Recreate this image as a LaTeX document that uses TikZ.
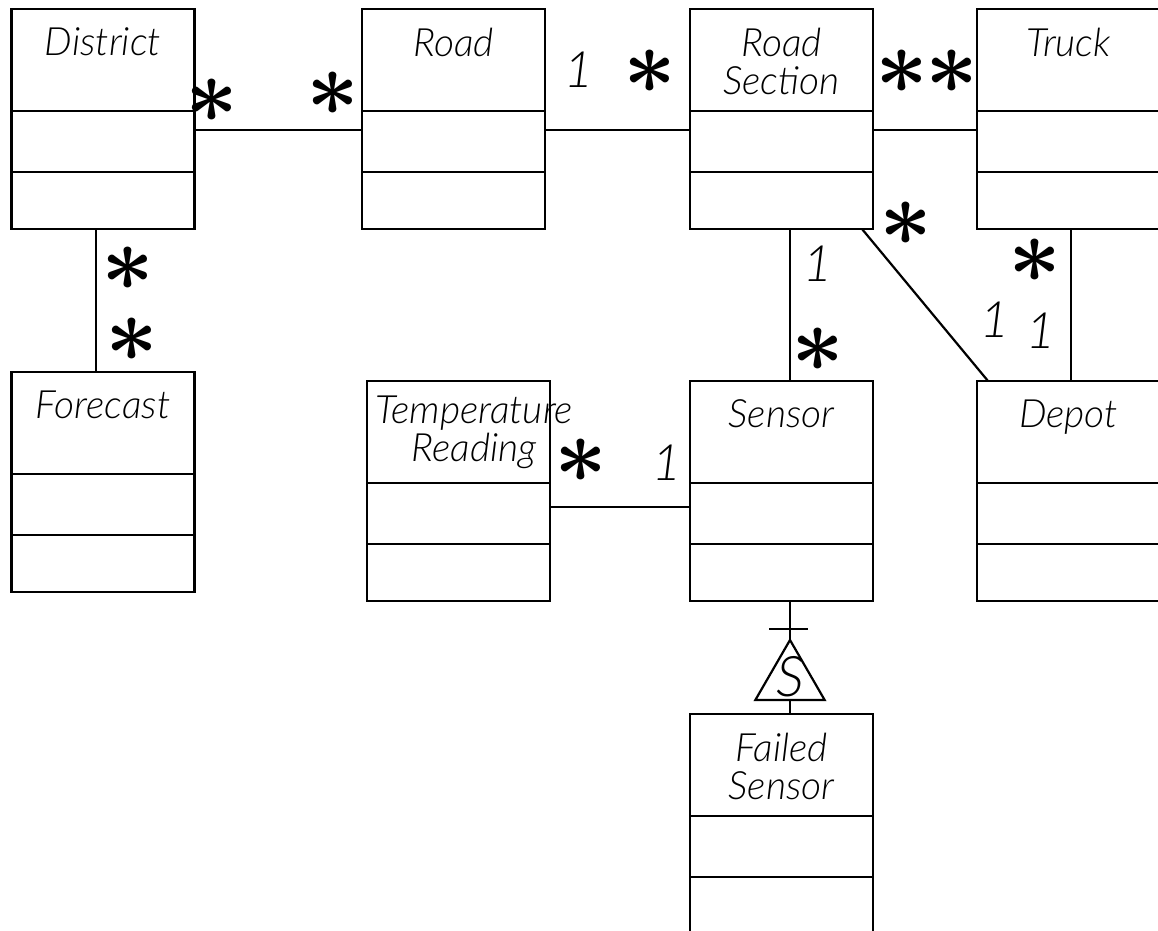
\documentclass[tikz,border=0pt]{standalone}
\usepackage{fontspec}
\newfontfamily\umlfont{Lato}[UprightFont=* Light, ItalicFont=* Light Italic]
\usepackage{graphicx}
\usetikzlibrary{shapes.geometric, positioning, calc}

% class box with three compartments
\newcommand{\umlclass}[5][]{%
  \node[classbox] (#2) at (#3,#4) {};
  \draw ($(#2.north west)+(0,-102)$) -- ++(183,0);
  \draw ($(#2.north west)+(0,-163)$) -- ++(183,0);
  \node[classname, #1] at (#2.north) {#5};
}
\newcommand{\many}{\scalebox{1.85}{\boldmath$\ast$}}

\begin{document}
\begin{tikzpicture}[x=0.5pt, y=0.5pt, line width=1.1pt,
  classbox/.style={draw, minimum width=91.5pt, minimum height=110pt, inner sep=0pt, outer sep=0pt},
  classname/.style={anchor=north, yshift=-9pt, align=center, inner sep=0pt,
    font=\umlfont\itshape\fontsize{19.5}{19}\selectfont},
  mult/.style={inner sep=0pt, font=\umlfont\itshape\fontsize{25}{25}\selectfont},
  gen/.style={draw, regular polygon, regular polygon sides=3, minimum size=40pt,
    inner sep=0pt, outer sep=0pt},
  genlbl/.style={inner sep=0pt, font=\umlfont\itshape\fontsize{28}{28}\selectfont}
]
  \useasboundingbox (0,0) rectangle (1158,931);

  %% Classes
  \umlclass{district}{103}{812}{District}
  \umlclass{road}{453.5}{812}{Road}
  \umlclass{section}{781.5}{812}{Road\\Section}
  \umlclass{truck}{1068.5}{812}{Truck}
  \umlclass{forecast}{103}{449}{Forecast}
  \umlclass[xshift=7.75pt, yshift=2pt]{reading}{458.5}{440}{Temperature\\Reading}
  \umlclass{sensor}{781.5}{440}{Sensor}
  \umlclass{depot}{1068.5}{440}{Depot}
  \umlclass{failed}{781.5}{107}{Failed\\Sensor}

  %% Associations
  \draw ([yshift=-5.5pt]district.east) -- ([yshift=-5.5pt]road.west);
  \draw ([yshift=-5.5pt]road.east) -- ([yshift=-5.5pt]section.west);
  \draw ([yshift=-5.5pt]section.east) -- ([yshift=-5.5pt]truck.west);
  \draw ([xshift=-3.5pt]district.south) -- ([xshift=-3.5pt]forecast.north);
  \draw ([xshift=4.25pt]section.south) -- ([xshift=4.25pt]sensor.north);
  \draw ([xshift=40.25pt]section.south) -- ([xshift=5.5pt]depot.north west);
  \draw ([xshift=1.25pt]truck.south) -- ([xshift=1.25pt]depot.north);
  \draw ([yshift=-8pt]reading.east) -- ([yshift=-8pt]sensor.west);

  %% Generalization
  \node[gen] (gen) at (790,251) {};
  \node[genlbl] at ([yshift=1.5pt]gen.center) {S};
  \draw (sensor.south -| gen.north) -- (gen.north);
  \draw ([xshift=-10.5pt, yshift=5.5pt]gen.north) -- ++(39,0);
  \draw (gen.south) -- (gen.south |- failed.north);

  %% Multiplicities
  \node[mult] (m1) at (212,830) {\many};
  \node[mult] (m2) at (333,837) {\many};
  \node[mult] (m3) at (579,861) {1};
  \node[mult] (m4) at (650,859) {\many};
  \node[mult] (m5) at (902,859) {\many};
  \node[mult] (m6) at (952,859) {\many};
  \node[mult] (m7) at (128,662) {\many};
  \node[mult] (m8) at (132,591) {\many};
  \node[mult] (m9) at (818,667) {1};
  \node[mult] (m10) at (818,581) {\many};
  \node[mult] (m11) at (906,707) {\many};
  \node[mult] (m12) at (995,611) {1};
  \node[mult] (m13) at (1035,670) {\many};
  \node[mult] (m14) at (1041,600) {1};
  \node[mult] (m15) at (581,470) {\many};
  \node[mult] (m16) at (667,468) {1};
\end{tikzpicture}
\end{document}
